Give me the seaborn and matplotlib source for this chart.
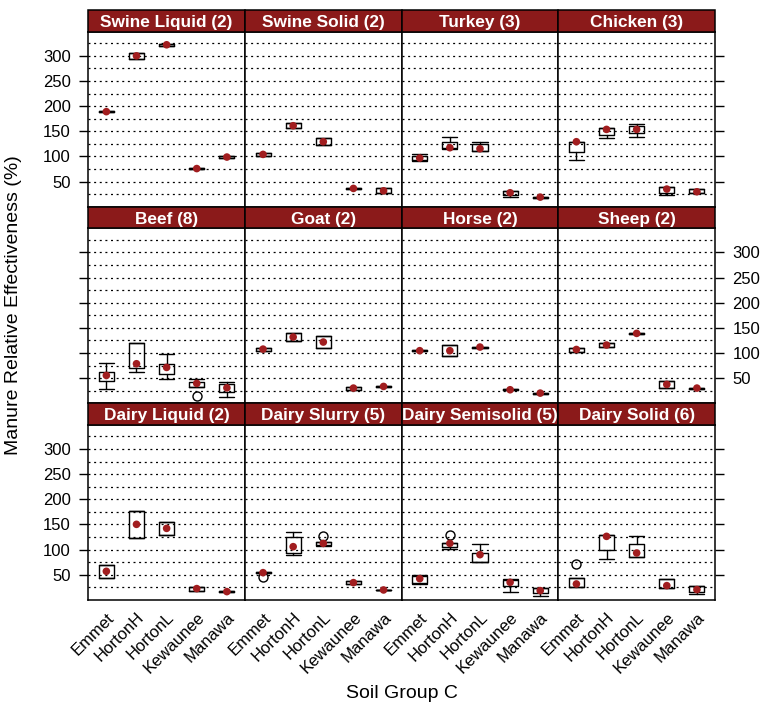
import matplotlib
matplotlib.use("Agg")
import matplotlib.pyplot as plt
from matplotlib.patches import Rectangle
import numpy as np
import pandas as pd
import seaborn as sns

# ---- data -------------------------------------------------------------
soils = ["Emmet", "HortonH", "HortonL", "Kewaunee", "Manawa"]
manures = ["Swine Liquid", "Swine Solid", "Turkey", "Chicken",
           "Beef", "Goat", "Horse", "Sheep",
           "Dairy Liquid", "Dairy Slurry", "Dairy Semisolid", "Dairy Solid"]
n_sites = [2, 2, 3, 3, 8, 2, 2, 2, 2, 5, 5, 6]

# box statistics per manure (rows) and soil (columns)
whisker_low = [
    [187.5, 294.0, 320.5, 74.5, 97.5],
    [101.0, 156.5, 123.0, 35.2, 27.5],
    [91.0, 114.7, 110.0, 18.5, 18.0],
    [92.7, 137.2, 138.5, 22.3, 27.0],
    [28.2, 62.0, 48.1, 33.0, 12.2],
    [103.6, 123.8, 109.0, 26.9, 32.5],
    [103.5, 93.2, 110.7, 26.0, 19.2],
    [102.4, 111.8, 138.0, 29.5, 29.2],
    [43.5, 123.7, 129.0, 17.7, 15.5],
    [53.0, 89.2, 107.0, 31.6, 18.8],
    [32.3, 100.5, 76.0, 15.7, 7.1],
    [25.7, 82.0, 84.6, 24.3, 11.8],
]
lower_hinge = [
    [187.5, 294.0, 320.5, 74.5, 97.5],
    [101.0, 156.5, 123.0, 35.2, 27.5],
    [92.0, 116.0, 110.0, 22.5, 18.0],
    [109.3, 143.1, 145.8, 27.7, 27.5],
    [44.8, 70.0, 57.4, 33.0, 22.9],
    [103.6, 123.8, 109.0, 26.9, 32.5],
    [103.5, 93.2, 110.7, 26.0, 19.2],
    [102.4, 111.8, 138.0, 29.5, 29.2],
    [43.5, 123.7, 129.0, 17.7, 15.5],
    [53.0, 93.2, 109.1, 31.6, 18.8],
    [33.0, 105.8, 76.0, 27.0, 13.7],
    [25.7, 99.8, 84.6, 24.3, 16.4],
]
median = [
    [189.0, 300.0, 322.0, 75.8, 98.7],
    [104.0, 161.0, 129.2, 36.3, 31.6],
    [96.7, 117.3, 115.3, 27.7, 19.0],
    [129.2, 153.7, 153.7, 35.0, 29.6],
    [55.4, 78.6, 71.3, 39.5, 30.7],
    [107.7, 131.7, 121.8, 30.2, 33.5],
    [104.6, 104.6, 111.8, 26.9, 20.2],
    [107.0, 115.8, 139.0, 37.5, 30.2],
    [56.8, 150.2, 142.2, 22.4, 16.4],
    [54.1, 105.8, 112.4, 34.3, 19.7],
    [42.2, 112.4, 89.9, 34.9, 18.4],
    [31.6, 126.3, 93.2, 28.3, 20.4],
]
upper_hinge = [
    [190.5, 306.0, 323.5, 77.0, 100.0],
    [107.0, 165.5, 136.0, 37.4, 36.3],
    [101.0, 128.0, 125.0, 30.3, 20.0],
    [129.2, 156.4, 160.4, 38.3, 34.5],
    [62.0, 120.5, 78.6, 42.0, 37.5],
    [110.3, 139.0, 133.0, 32.8, 34.5],
    [105.7, 115.8, 112.9, 27.8, 21.2],
    [110.3, 119.6, 140.0, 44.8, 31.2],
    [70.0, 176.0, 154.1, 25.7, 17.3],
    [56.0, 124.3, 114.4, 36.9, 20.6],
    [48.2, 113.0, 92.5, 39.6, 23.0],
    [43.5, 128.3, 110.4, 42.2, 28.3],
]
whisker_high = [
    [190.5, 306.0, 323.5, 77.0, 100.0],
    [107.0, 165.5, 136.0, 37.4, 36.3],
    [104.0, 137.8, 128.0, 30.3, 20.0],
    [129.2, 156.4, 165.0, 38.3, 35.0],
    [80.6, 120.5, 98.5, 48.0, 42.8],
    [110.3, 139.0, 133.0, 32.8, 34.5],
    [105.7, 115.8, 112.9, 27.8, 21.2],
    [110.3, 119.6, 140.0, 44.8, 31.2],
    [70.0, 176.0, 154.1, 25.7, 17.3],
    [56.0, 134.3, 116.0, 36.9, 20.6],
    [50.2, 113.0, 111.8, 41.6, 23.0],
    [43.5, 128.3, 127.6, 42.2, 28.3],
]
# (manure, soil, value)
outliers = [
    ("Beef", "Kewaunee", 15.0),
    ("Dairy Slurry", "Emmet", 45.0),
    ("Dairy Slurry", "HortonL", 127.0),
    ("Dairy Semisolid", "HortonH", 129.0),
    ("Dairy Solid", "Emmet", 71.4),
]

y_ticks = [50, 100, 150, 200, 250, 300]
grid_levels = list(range(25, 326, 25))

# ---- long table -------------------------------------------------------
rows = []
for i, m in enumerate(manures):
    for j, s in enumerate(soils):
        rows.append(dict(manure=m, soil=s, pos=j,
                         wlo=whisker_low[i][j], q1=lower_hinge[i][j],
                         med=median[i][j], q3=upper_hinge[i][j],
                         whi=whisker_high[i][j],
                         fliers=[v for (mm, ss, v) in outliers if mm == m and ss == s]))
df = pd.DataFrame(rows)

# ---- style ------------------------------------------------------------
sns.set_style("white")
plt.rcParams["font.family"] = ["Liberation Sans", "DejaVu Sans"]
plt.rcParams.update({"text.color": "black", "axes.labelcolor": "black",
                     "xtick.color": "black", "ytick.color": "black"})

STRIP = "#8B1A1A"
DOT = "#A11D1F"


def draw_boxes(data, **kws):
    ax = plt.gca()
    stats = [dict(whislo=r.wlo, q1=r.q1, med=r.med, q3=r.q3, whishi=r.whi,
                  fliers=np.array(r.fliers)) for r in data.itertuples()]
    line = dict(color="black", linewidth=1.0)
    ax.bxp(stats, positions=data["pos"].to_numpy(), widths=0.5, capwidths=0.5,
           manage_ticks=False, showcaps=True,
           boxprops=line, whiskerprops=line, capprops=line,
           medianprops=dict(visible=False),
           flierprops=dict(marker="o", markerfacecolor="none",
                           markeredgecolor="black", markersize=6.5,
                           markeredgewidth=1.0))


g = sns.FacetGrid(df, col="manure", col_order=manures, col_wrap=4,
                  sharex=True, sharey=True, despine=False, height=2, aspect=1)
g.map_dataframe(draw_boxes)
g.map_dataframe(sns.scatterplot, x="pos", y="med", color=DOT, s=30,
                edgecolor="none", zorder=5)

fig = g.figure
fig.set_size_inches(7.67, 7.11)
fig.subplots_adjust(left=0.1151, right=0.9322, bottom=0.1561, top=0.9554,
                    wspace=0, hspace=0.1226)
g.set_titles("")
g.set_axis_labels("", "")

strip_h = 0.1228
axes = g.axes.flatten()
for k, ax in enumerate(axes):
    row, col = divmod(k, 4)
    ax.set_xlim(-0.6, 4.6)
    ax.set_ylim(-0.3, 348)
    for yv in grid_levels:
        ax.axhline(yv, color="black", linewidth=0.9,
                   linestyle=(0, (1.6, 2.9)), zorder=0)
    for sp in ax.spines.values():
        sp.set_color("black")
        sp.set_linewidth(1.1)
    ax.set_yticks(y_ticks)
    ax.set_xticks(range(len(soils)))
    ax.set_xticklabels(soils)
    left_lab = (row != 1) and col == 0
    right_lab = (row == 1) and col == 3
    ax.tick_params(axis="y", left=(col == 0), right=(col == 3),
                   labelleft=left_lab, labelright=right_lab,
                   direction="out", length=6.5, width=1.0, color="black",
                   labelcolor="black", labelsize=12, pad=6)
    ax.tick_params(axis="x", bottom=False, top=False, labelcolor="black",
                   labelbottom=(row == 2), length=0, pad=7, labelsize=12)
    if row == 2:
        for lab in ax.get_xticklabels():
            lab.set_rotation(45)
            lab.set_ha("right")
            lab.set_va("top")
            lab.set_rotation_mode("anchor")
            lab.set_visible(True)
    # panel strip
    ax.add_patch(Rectangle((0, 1), 1, strip_h, transform=ax.transAxes,
                           facecolor=STRIP, edgecolor="black", linewidth=1.1,
                           clip_on=False, zorder=10))
    ax.text(0.5, 1 + strip_h / 2, f"{manures[k]} ({n_sites[k]})",
            transform=ax.transAxes, ha="center", va="center_baseline",
            color="white", fontsize=12.4, fontweight="bold", zorder=11)

fig.text(0.018, 0.571, "Manure Relative Effectiveness (%)", rotation=90,
         ha="center", va="center", fontsize=14, color="black")
fig.text(0.5237, 0.0253, "Soil Group C", ha="center", va="center",
         fontsize=14, color="black")

fig.savefig("out.png", dpi=100)
